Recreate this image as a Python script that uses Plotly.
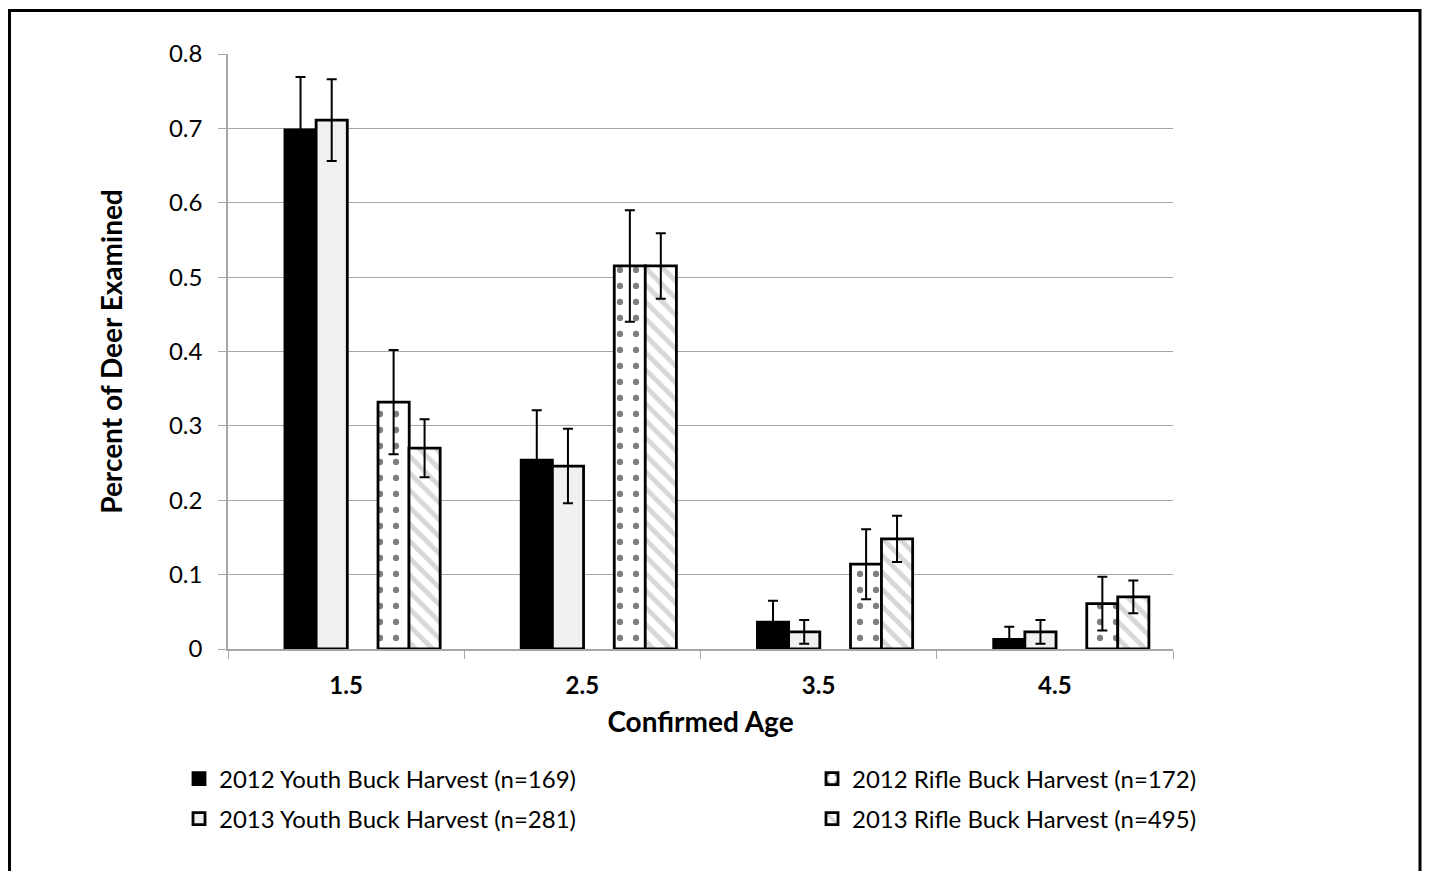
import plotly.graph_objects as go

# Confirmed age classes
ages = ["1.5", "2.5", "3.5", "4.5"]

# Proportion of examined deer in each age class, with error bar half-widths
youth_2012 = [0.698, 0.254, 0.036, 0.013]
youth_2012_err = [0.071, 0.067, 0.029, 0.017]

youth_2013 = [0.711, 0.246, 0.023, 0.023]
youth_2013_err = [0.055, 0.050, 0.016, 0.016]

rifle_2012 = [0.332, 0.515, 0.114, 0.061]
rifle_2012_err = [0.070, 0.075, 0.047, 0.036]

rifle_2013 = [0.270, 0.515, 0.148, 0.070]
rifle_2013_err = [0.039, 0.044, 0.031, 0.022]

y_ticks = [0, 0.1, 0.2, 0.3, 0.4, 0.5, 0.6, 0.7, 0.8]

FONT = "Lato"
BAR_W = 0.132

series = [
    dict(name="2012 Youth Buck Harvest (n=169)", y=youth_2012, err=youth_2012_err,
         offset=-0.259, color="black", pattern=None, legend="legend"),
    dict(name="2012 Rifle Buck Harvest (n=172)", y=rifle_2012, err=rifle_2012_err,
         offset=0.135, color="white",
         pattern=dict(shape=".", fgcolor="black", bgcolor="white", size=16,
                      solidity=0.12, fillmode="overlay"), legend="legend2"),
    dict(name="2013 Youth Buck Harvest (n=281)", y=youth_2013, err=youth_2013_err,
         offset=-0.127, color="#f0f0f0", pattern=None, legend="legend3"),
    dict(name="2013 Rifle Buck Harvest (n=495)", y=rifle_2013, err=rifle_2013_err,
         offset=0.266, color="white",
         pattern=dict(shape="\\", fgcolor="#b0b0b0", bgcolor="white", size=12,
                      solidity=0.4, fillmode="overlay"), legend="legend4"),
]

fig = go.Figure()
for s in series:
    marker = dict(color=s["color"], line=dict(color="black", width=2.8))
    if s["pattern"] is not None:
        marker["pattern"] = s["pattern"]
    fig.add_trace(go.Bar(
        x=ages, y=s["y"], name=s["name"],
        width=BAR_W, offset=s["offset"],
        marker=marker,
        error_y=dict(type="data", array=s["err"], visible=True,
                     color="black", thickness=2, width=5),
        legend=s["legend"],
    ))

# Plot-area geometry (pixels) used to place legends and the outer frame
W, H = 1429, 871
L, R, T, B = 228, 256, 54, 222
pw, ph = W - L - R, H - T - B


def px_x(px):
    return (px - L) / pw


def px_y(py):
    return (H - B - py) / ph


legend_common = dict(
    font=dict(family=FONT, size=24, color="black"),
    bgcolor="rgba(0,0,0,0)", xanchor="left", yanchor="middle",
    orientation="v", itemwidth=30,
)

fig.update_layout(
    width=W, height=H,
    margin=dict(l=L, r=R, t=T, b=B),
    paper_bgcolor="white", plot_bgcolor="white",
    font=dict(family=FONT, color="black"),
    barmode="overlay",
    showlegend=True,
    legend=dict(x=px_x(179), y=px_y(779), **legend_common),
    legend2=dict(x=px_x(812), y=px_y(779), **legend_common),
    legend3=dict(x=px_x(179), y=px_y(819), **legend_common),
    legend4=dict(x=px_x(812), y=px_y(819), **legend_common),
    xaxis=dict(
        type="category", range=[-0.5, 3.5],
        showline=True, linecolor="#a6a6a6", linewidth=1.5,
        ticks="outside", tickson="boundaries", ticklen=8, tickcolor="#a6a6a6",
        ticklabelstandoff=14,
        tickfont=dict(family=FONT, size=24, color="black", weight="bold"),
        showgrid=False,
        title=dict(text="Confirmed Age", standoff=15,
                   font=dict(family=FONT, size=28, color="black", weight="bold")),
    ),
    yaxis=dict(
        range=[0, 0.8], tickvals=y_ticks,
        ticktext=[f"{v:g}" for v in y_ticks],
        showline=True, linecolor="#a6a6a6", linewidth=1.5,
        ticks="outside", ticklen=8, tickcolor="#a6a6a6",
        ticklabelstandoff=11,
        showgrid=True, gridcolor="#a6a6a6", gridwidth=1.2,
        zeroline=False,
        tickfont=dict(family=FONT, size=24, color="black"),
        title=dict(text="Percent of Deer Examined", standoff=38,
                   font=dict(family=FONT, size=28, color="black", weight="bold")),
    ),
    shapes=[dict(
        type="rect", xref="paper", yref="paper",
        x0=px_x(9.5), x1=px_x(1420), y0=px_y(890), y1=px_y(10.5),
        line=dict(color="black", width=3), fillcolor="rgba(0,0,0,0)",
        layer="above",
    )],
)

fig.write_html("out.html")
